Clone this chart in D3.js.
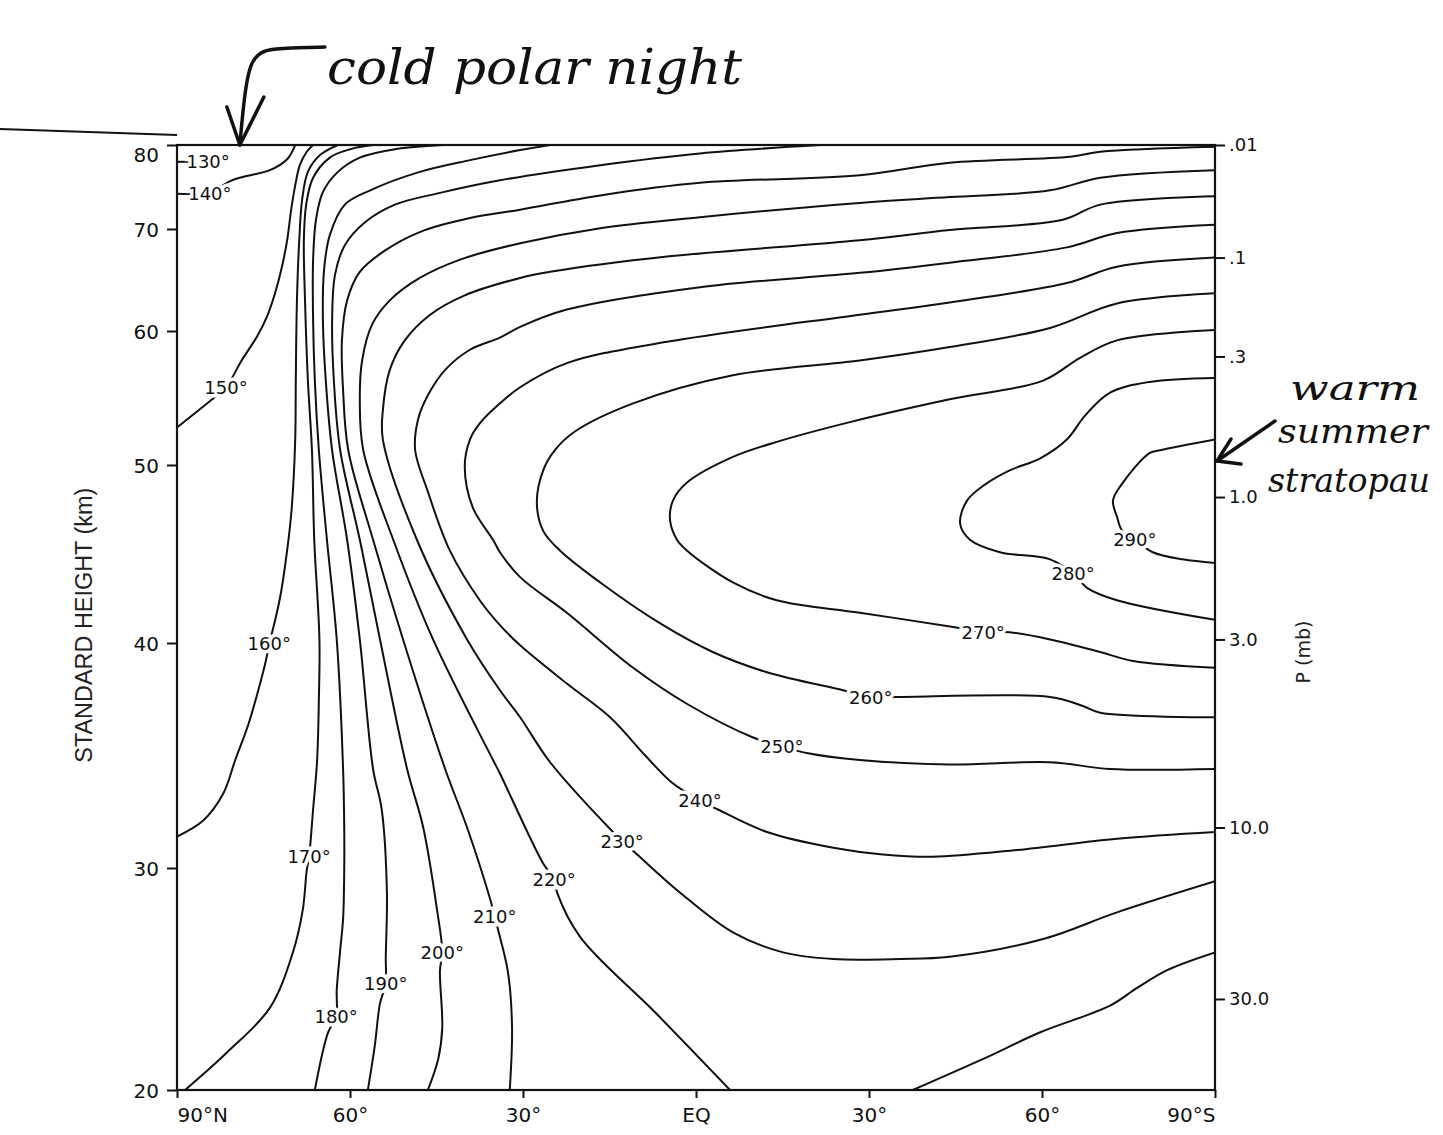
<!DOCTYPE html>
<html>
<head>
<meta charset="utf-8">
<script src="https://cdn.jsdelivr.net/npm/d3@7"></script>
<style>
  body { margin: 0; background: #fff; }
</style>
</head>
<body>
<div id="graphic"></div>
<script>
// axis values
const latTicks = [90, 60, 30, 0, -30, -60, -90];
const latTickLabels = ["90°N", "60°", "30°", "EQ", "30°", "60°", "90°S"];
const heightTicks = [20, 30, 40, 50, 60, 70, 80];
const pressureTicks = [0.01, 0.1, 0.3, 1, 3, 10, 30];
const pressureTickLabels = [".01", ".1", ".3", "1.0", "3.0", "10.0", "30.0"];
// standard height (km) where each pressure tick sits on the right axis
const pressureHeights = [80.0, 67.2, 58.1, 48.2, 40.2, 31.8, 24.1];

// isotherms, each point is [latitude, height km]
const t130 = [[90, 78.0], [86.5, 78.0]];
const t140 = [[90, 74.2], [84.3, 74.4], [80.8, 75.7], [78.6, 76.2], [73.9, 77.0], [70.9, 78.3], [69.5, 80]];
const t150 = [[90, 52.8], [83.9, 54.9], [81.5, 55.8], [78.8, 57.8], [76.1, 59.6], [74.4, 61.4], [73.0, 63.7],
  [71.8, 66.3], [70.9, 68.9], [70.2, 72.3], [69.5, 75.2], [68.7, 77.6], [67.5, 79.2], [66.4, 80]];
const t160 = [[90, 31.4], [85.5, 32.1], [82.0, 33.3], [79.9, 34.8], [77.6, 36.4], [75.8, 38.0], [74.6, 39.2],
  [74.0, 40.0], [73.5, 40.6], [72.1, 42.6], [70.9, 45.2], [70.1, 47.6], [69.5, 51.9], [69.4, 56.3],
  [69.2, 63.0], [68.8, 68.9], [68.3, 73.5], [67.3, 76.8], [65.2, 78.8], [62.1, 80]];
const t170 = [[88.6, 20], [81.3, 21.7], [73.9, 23.7], [69.9, 26.2], [68.2, 28.1], [67.5, 29.9], [67.1, 30.5],
  [66.4, 32.6], [65.7, 34.8], [65.4, 37.5], [65.3, 40.2], [66.2, 45.8], [66.6, 51.1], [67.3, 56.3],
  [67.8, 63.0], [68.0, 68.9], [67.6, 72.9], [66.4, 76.1], [63.5, 78.5], [60.0, 79.5], [56.0, 80]];
const t180 = [[66.1, 20], [63.8, 22.6], [62.4, 23.3], [62.3, 24.5], [61.7, 26.3], [61.2, 27.7], [61.0, 29.9],
  [61.0, 31.8], [61.2, 34.4], [62.3, 40.2], [64.0, 45.8], [65.4, 51.1], [66.1, 56.3], [66.4, 61.1],
  [66.4, 67.0], [65.9, 71.1], [64.7, 74.4], [62.1, 76.8], [58.3, 78.5], [52.2, 79.5], [43.9, 80]];
const t190 = [[56.9, 20], [55.7, 22.0], [54.8, 23.9], [53.8, 24.8], [53.8, 25.9], [53.6, 28.9], [54.5, 32.6],
  [56.0, 34.4], [58.3, 40.2], [60.5, 45.8], [63.1, 51.1], [64.2, 56.3], [64.7, 61.1], [64.5, 66.0],
  [63.5, 69.4], [60.9, 72.9], [56.5, 74.6], [47.9, 76.8], [39.2, 78.2], [30.5, 79.4], [25.3, 80]];
const t200 = [[46.5, 20], [44.7, 21.4], [44.0, 22.8], [44.4, 25.4], [44.0, 26.2], [44.9, 28.1], [47.3, 31.8],
  [50.1, 34.4], [54.8, 40.2], [58.3, 45.8], [61.7, 51.1], [62.8, 56.3], [63.1, 61.1], [62.6, 65.5],
  [60.9, 68.4], [57.4, 70.8], [52.2, 72.9], [44.4, 74.3], [34.0, 75.8], [16.6, 77.6], [-0.7, 79.0], [-21.5, 80]];
const t210 = [[32.3, 20], [31.9, 22.8], [32.6, 25.3], [34.3, 27.2], [34.9, 27.8], [35.7, 28.6], [39.7, 31.8],
  [43.5, 34.4], [50.8, 40.2], [56.0, 45.8], [60.3, 51.1], [61.2, 55.6], [61.4, 59.3], [60.5, 63.0],
  [58.3, 65.8], [53.9, 67.9], [47.9, 69.7], [39.2, 71.3], [30.5, 72.3], [16.6, 74.0], [-0.7, 75.5],
  [-28.4, 76.4], [-44.0, 77.9], [-64.9, 78.6], [-70.1, 79.2], [-90, 79.8]];
const t220 = [[-5.9, 20], [7.1, 23.5], [20.1, 26.9], [24.1, 28.9], [24.6, 29.5], [26.5, 30.2], [34.0, 34.2],
  [35.2, 34.8], [45.6, 40.2], [52.5, 45.8], [57.7, 51.1], [58.3, 54.9], [57.9, 57.8], [56.2, 60.6],
  [53.1, 63.0], [47.9, 65.2], [40.9, 67.0], [30.5, 68.6], [16.6, 70.1], [-0.7, 71.4], [-28.4, 73.1],
  [-44.0, 73.8], [-61.4, 74.6], [-70.1, 76.1], [-90, 77.0]];
const t230 = [[-90, 29.4], [-73.0, 28.0], [-60.2, 26.8], [-44.0, 26.0], [-35.4, 25.9], [-23.8, 25.9],
  [-15.1, 26.2], [-6.4, 27.1], [2.8, 28.9], [10.2, 30.6], [12.8, 31.2], [14.4, 31.6], [25.3, 34.7],
  [30.5, 36.7], [34.0, 37.9], [39.7, 40.2], [48.4, 45.8], [54.3, 51.9], [54.3, 54.1], [53.1, 57.1],
  [50.5, 59.3], [46.1, 61.6], [40.1, 63.5], [30.5, 65.2], [25.3, 65.8], [5.0, 67.3], [-28.4, 68.9],
  [-44.0, 69.9], [-63.6, 71.1], [-70.1, 72.9], [-90, 73.9]];
const t230b = [[-37.6, 20], [-49.8, 21.4], [-59.7, 22.6], [-71.8, 23.8], [-76.5, 24.6], [-81.7, 25.4], [-90, 26.2]];
const t240 = [[-90, 31.6], [-73.0, 31.3], [-55.7, 30.8], [-41.1, 30.5], [-32.4, 30.6], [-23.8, 30.9],
  [-12.3, 31.6], [-3.8, 32.6], [-0.7, 33.0], [4.2, 33.8], [8.8, 35.0], [14.9, 36.7], [22.4, 38.2],
  [30.5, 39.9], [34.0, 41.0], [37.5, 42.4], [42.7, 45.2], [46.6, 48.6], [48.7, 51.1], [48.2, 53.4],
  [46.5, 55.2], [43.5, 57.1], [39.2, 58.6], [34.0, 59.5], [30.5, 60.4], [22.4, 62.1], [-0.7, 64.3],
  [-28.4, 65.7], [-44.0, 66.7], [-64.3, 68.2], [-73.0, 69.6], [-90, 70.5]];
const t250 = [[-90, 34.4], [-71.8, 34.4], [-61.4, 34.7], [-44.0, 34.6], [-28.4, 34.8], [-19.4, 35.1],
  [-14.9, 35.4], [-9.9, 35.8], [1.6, 37.3], [10.9, 38.9], [22.4, 41.7], [30.5, 43.7], [34.0, 45.1],
  [35.2, 45.8], [38.7, 47.6], [40.1, 49.9], [39.2, 51.9], [37.5, 53.1], [34.0, 54.6], [30.5, 55.8],
  [22.4, 57.6], [5.0, 59.2], [-28.4, 61.6], [-44.0, 62.8], [-64.3, 64.7], [-73.0, 66.3], [-90, 67.2]];
const t260 = [[-90, 36.7], [-70.1, 36.9], [-67.1, 37.2], [-61.4, 37.6], [-34.9, 37.6], [-30.3, 37.6],
  [-25.5, 37.9], [-12.3, 38.7], [-2.9, 39.6], [6.2, 41.1], [16.6, 43.4], [23.6, 45.2], [26.5, 46.3],
  [27.6, 47.9], [26.5, 49.7], [24.5, 51.1], [21.0, 52.5], [10.9, 54.6], [-6.4, 56.7], [-28.4, 57.8],
  [-44.0, 58.8], [-61.4, 60.3], [-73.0, 62.7], [-90, 63.7]];
const t270 = [[-90, 38.9], [-75.8, 39.2], [-70.1, 39.6], [-61.4, 40.2], [-54.4, 40.6], [-49.8, 40.6],
  [-44.6, 40.9], [-28.4, 41.7], [-14.0, 42.4], [-6.4, 43.4], [1.6, 45.2], [3.3, 45.8], [4.5, 46.9],
  [4.0, 48.0], [1.6, 49.0], [-6.4, 50.6], [-14.6, 51.8], [-26.7, 53.2], [-44.0, 54.9], [-60.2, 56.3],
  [-66.6, 58.0], [-73.0, 59.3], [-90, 60.1]];
const t280 = [[-90, 56.5], [-78.7, 56.2], [-71.8, 55.4], [-67.5, 53.7], [-64.3, 51.9], [-59.7, 50.5],
  [-54.4, 49.7], [-50.1, 48.9], [-47.0, 48.0], [-45.8, 46.7], [-47.5, 45.8], [-52.7, 45.1], [-61.4, 44.7],
  [-65.4, 43.9], [-67.8, 43.1], [-73.0, 42.4], [-90, 41.3]];
const t290 = [[-90, 51.9], [-80.5, 51.1], [-78.7, 50.9], [-74.0, 49.0], [-72.3, 48.0], [-73.0, 47.1],
  [-73.9, 46.3], [-76.1, 45.8], [-79.2, 45.1], [-84.4, 44.7], [-90, 44.5]];

const isotherms = [t130, t140, t150, t160, t170, t180, t190, t200, t210, t220,
  t230, t230b, t240, t250, t260, t270, t280, t290];

// isotherm labels (degrees K) and where they sit
const labelLevels = [130, 140, 150, 160, 170, 180, 190, 200, 210, 220, 230, 240, 250, 260, 270, 280, 290];
const labelLat = [84.6, 84.3, 81.5, 74.0, 67.1, 62.4, 53.8, 44.0, 34.9, 24.6, 12.8, -0.7, -14.9, -30.3, -49.8, -65.4, -76.1];
const labelKm = [78.0, 74.2, 55.8, 40.0, 30.5, 23.3, 24.8, 26.2, 27.8, 29.5, 31.2, 33.0, 35.4, 37.6, 40.6, 43.9, 45.8];

// handwritten notes
const noteTop = "cold polar night";
const noteRight = ["warm", "summer", "stratopau"];

const width = 1443, height = 1135;
const plot = {left: 177, right: 1215, top: 145, bottom: 1090};

const svg = d3.select("#graphic")
  .append("svg")
  .attr("width", width)
  .attr("height", height)
  .style("background", "#fff")
  .style("font-family", "'DejaVu Sans', sans-serif");

const x = d3.scaleLinear().domain([90, -90]).range([plot.left, plot.right]);
// the height axis of the original figure is not evenly spaced
const y = d3.scaleLinear().domain(heightTicks).range([1090, 868, 643, 465, 331, 229, 145]);
const yP = d3.scaleLog().domain(pressureTicks).range(pressureHeights.map(y));

svg.append("clipPath").attr("id", "plot-clip")
  .append("rect")
  .attr("x", plot.left).attr("y", plot.top)
  .attr("width", plot.right - plot.left).attr("height", plot.bottom - plot.top);

// isotherms
const line = d3.line()
  .curve(d3.curveCatmullRom.alpha(0.5))
  .x(d => x(d[0]))
  .y(d => y(d[1]));

svg.append("g")
  .attr("clip-path", "url(#plot-clip)")
  .selectAll("path")
  .data(isotherms)
  .join("path")
  .attr("fill", "none")
  .attr("stroke", "#111")
  .attr("stroke-width", 2)
  .attr("stroke-linejoin", "round")
  .attr("d", line);

// labels with a white halo so they break the lines
svg.append("g")
  .selectAll("text")
  .data(labelLevels)
  .join("text")
  .attr("x", (d, i) => x(labelLat[i]))
  .attr("y", (d, i) => y(labelKm[i]))
  .attr("text-anchor", "middle")
  .attr("dominant-baseline", "central")
  .attr("font-size", 18)
  .attr("fill", "#111")
  .attr("stroke", "#fff")
  .attr("stroke-width", 7)
  .attr("paint-order", "stroke")
  .text(d => d + "°");

// frame
svg.append("rect")
  .attr("x", plot.left).attr("y", plot.top)
  .attr("width", plot.right - plot.left).attr("height", plot.bottom - plot.top)
  .attr("fill", "none")
  .attr("stroke", "#111")
  .attr("stroke-width", 2.2);

// left axis (km)
const leftAxis = svg.append("g")
  .attr("transform", "translate(" + plot.left + ",0)")
  .call(d3.axisLeft(y).tickValues(heightTicks).tickSize(10).tickSizeOuter(0).tickPadding(8));
leftAxis.select(".domain").remove();
leftAxis.selectAll("line").attr("stroke", "#111").attr("stroke-width", 2);
leftAxis.selectAll("text")
  .attr("font-size", 20)
  .attr("font-family", "'DejaVu Sans', sans-serif")
  .attr("fill", "#111")
  .attr("dy", d => d === 80 ? "0.8em" : "0.35em");

// right axis (mb)
const rightAxis = svg.append("g")
  .attr("transform", "translate(" + plot.right + ",0)")
  .call(d3.axisRight(yP).tickValues(pressureTicks)
    .tickFormat((d, i) => pressureTickLabels[i])
    .tickSize(10).tickSizeOuter(0).tickPadding(4));
rightAxis.select(".domain").remove();
rightAxis.selectAll("line").attr("stroke", "#111").attr("stroke-width", 2);
rightAxis.selectAll("text")
  .attr("font-size", 18)
  .attr("font-family", "'DejaVu Sans', sans-serif")
  .attr("fill", "#111");

// bottom axis (latitude)
const bottomAxis = svg.append("g")
  .attr("transform", "translate(0," + plot.bottom + ")")
  .call(d3.axisBottom(x).tickValues(latTicks)
    .tickFormat((d, i) => latTickLabels[i])
    .tickSize(8).tickSizeOuter(0).tickPadding(10));
bottomAxis.select(".domain").remove();
bottomAxis.selectAll("line").attr("stroke", "#111").attr("stroke-width", 2);
bottomAxis.selectAll("text")
  .attr("font-size", 20)
  .attr("font-family", "'DejaVu Sans', sans-serif")
  .attr("fill", "#111")
  .attr("text-anchor", (d, i) => i === 0 ? "start" : (i === latTicks.length - 1 ? "end" : "middle"));

// axis titles
svg.append("text")
  .attr("transform", "translate(92," + y(41) + ") rotate(-90)")
  .attr("text-anchor", "middle")
  .attr("font-family", "'Liberation Sans Narrow', 'Liberation Sans', sans-serif")
  .attr("font-size", 23)
  .attr("fill", "#222")
  .attr("textLength", 275)
  .attr("lengthAdjust", "spacingAndGlyphs")
  .text("STANDARD HEIGHT  (km)");

svg.append("text")
  .attr("transform", "translate(1310," + y(39.6) + ") rotate(-90)")
  .attr("text-anchor", "middle")
  .attr("font-size", 19)
  .attr("fill", "#222")
  .text("P  (mb)");

// handwritten notes
const hand = "'DejaVu Serif', serif";
const arrow = d3.line().curve(d3.curveBasis);

// cold polar night
const tipA = [x(79.1), y(80)];
svg.append("line")
  .attr("x1", 0).attr("y1", 129).attr("x2", plot.left).attr("y2", 135)
  .attr("stroke", "#111").attr("stroke-width", 2);
svg.append("path")
  .attr("d", arrow([[tipA[0], tipA[1]], [tipA[0] + 4, tipA[1] - 45], [tipA[0] + 10, tipA[1] - 85],
    [tipA[0] + 25, tipA[1] - 96], [tipA[0] + 50, tipA[1] - 97], [tipA[0] + 85, tipA[1] - 98]]))
  .attr("fill", "none").attr("stroke", "#111").attr("stroke-width", 3.5).attr("stroke-linecap", "round");
svg.append("path")
  .attr("d", "M" + (tipA[0] - 13) + "," + (tipA[1] - 38) + "L" + tipA[0] + "," + tipA[1] +
    "L" + (tipA[0] + 24) + "," + (tipA[1] - 48))
  .attr("fill", "none").attr("stroke", "#111").attr("stroke-width", 3.5)
  .attr("stroke-linecap", "round").attr("stroke-linejoin", "round");
svg.append("text")
  .attr("x", 327).attr("y", 84)
  .attr("font-family", hand).attr("font-style", "italic")
  .attr("font-size", 48).attr("fill", "#111")
  .attr("textLength", 415).attr("lengthAdjust", "spacingAndGlyphs")
  .text(noteTop);

// warm summer stratopause
const tipB = [x(-90) + 2, y(50.3)];
svg.append("path")
  .attr("d", "M" + (tipB[0] + 58) + "," + (tipB[1] - 40) + "L" + tipB[0] + "," + tipB[1])
  .attr("fill", "none").attr("stroke", "#111").attr("stroke-width", 3.5).attr("stroke-linecap", "round");
svg.append("path")
  .attr("d", "M" + (tipB[0] + 14) + "," + (tipB[1] - 22) + "L" + tipB[0] + "," + tipB[1] +
    "L" + (tipB[0] + 24) + "," + (tipB[1] + 3))
  .attr("fill", "none").attr("stroke", "#111").attr("stroke-width", 3.5)
  .attr("stroke-linecap", "round").attr("stroke-linejoin", "round");
svg.append("g")
  .selectAll("text")
  .data(noteRight)
  .join("text")
  .attr("x", (d, i) => [1290, 1278, 1268][i])
  .attr("y", (d, i) => [400, 443, 492][i])
  .attr("font-family", hand).attr("font-style", "italic")
  .attr("font-size", 34).attr("fill", "#111")
  .attr("textLength", (d, i) => [130, 150, 162][i])
  .attr("lengthAdjust", "spacingAndGlyphs")
  .text(d => d);
</script>
</body>
</html>
